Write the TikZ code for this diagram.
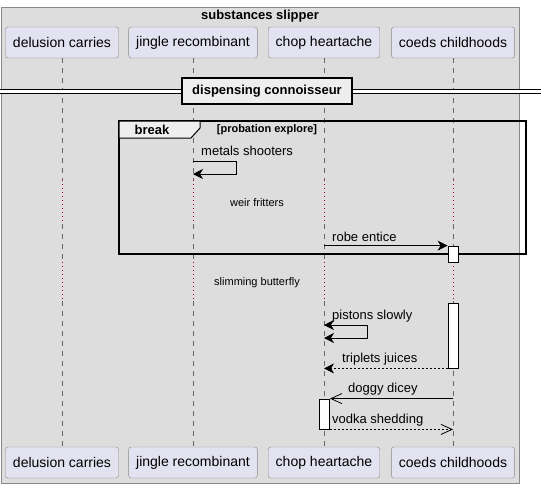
\documentclass[tikz,border=0pt]{standalone}
\usepackage{fontspec}
\setmainfont{Liberation Sans}
\usepackage{tikz}
\usetikzlibrary{arrows.meta,positioning}

\definecolor{framebg}{HTML}{DDDDDD}
\definecolor{frameline}{HTML}{888888}
\definecolor{partfill}{HTML}{E2E2F0}
\definecolor{tabfill}{HTML}{EEEEEE}
\definecolor{delayred}{HTML}{A80036}
\definecolor{lifegray}{HTML}{666666}

\begin{document}
\begin{tikzpicture}[x=1pt, y=-1pt,
    participant/.style={rectangle, draw=frameline, fill=partfill, rounded corners=2.5pt, minimum height=31pt, inner xsep=7.5pt, font=\fontsize{14}{16}\selectfont},
    lifeline/.style={draw=lifegray, dash pattern=on 5pt off 5pt, line width=0.6pt},
    delayline/.style={draw=delayred, dash pattern=on 1pt off 3pt, line width=0.8pt},
    activation/.style={rectangle, draw, fill=white, minimum width=10pt, inner sep=0pt, line width=0.8pt},
    divider/.style={rectangle, draw, line width=1.8pt, fill=tabfill, minimum height=26pt, inner xsep=10pt, font=\bfseries\fontsize{13}{15}\selectfont},
    msgtext/.style={anchor=west, inner sep=0pt, font=\fontsize{13}{15}\selectfont},
    delaytext/.style={inner sep=0pt, font=\fontsize{11}{13}\selectfont},
    arrow/.style={-{Stealth[length=10pt, width=10pt, inset=3pt]}, line width=0.9pt},
    biarrow/.style={{Stealth[length=10pt, width=10pt, inset=3pt]}-{Stealth[length=10pt, width=10pt, inset=3pt]}, line width=0.9pt},
    openarrow/.style={-{Straight Barb[length=11pt, width=10pt, line width=0.8pt]}, line width=0.9pt},
    reply/.style={dash pattern=on 2pt off 2pt}
]
\useasboundingbox (0,0) rectangle (541,488);

% Box
\draw[draw=frameline, fill=framebg, line width=1pt] (1,7) rectangle (519,483);
\node[font=\bfseries\fontsize{13}{15}\selectfont] (boxTitle) at (260,16) {substances slipper};

% Participants
\node[participant] at (62,42.5) (dcT) {delusion carries};
\node[participant] at (193,42.5) (jrT) {jingle recombinant};
\node[participant] at (324,42.5) (chT) {chop heartache};
\node[participant] at (453,42.5) (ccT) {coeds childhoods};
\node[participant] at (62,462.5) (dcB) {delusion carries};
\node[participant] at (193,462.5) (jrB) {jingle recombinant};
\node[participant] at (324,462.5) (chB) {chop heartache};
\node[participant] at (453,462.5) (ccB) {coeds childhoods};

% Lifelines with delays
\foreach \p in {dc,jr,ch,cc} {
    \draw[lifeline] (\p T.south) -- (\p T.south |- 0,180);
    \draw[delayline] (\p T.south |- 0,180) -- (\p T.south |- 0,224);
    \draw[lifeline] (\p T.south |- 0,224) -- (\p T.south |- 0,262);
    \draw[delayline] (\p T.south |- 0,262) -- (\p T.south |- 0,301);
    \draw[lifeline] (\p T.south |- 0,301) -- (\p B.north);
}

% Divider
\draw[double=white, double distance=3pt, line width=1pt] (0,91) -- (541,91);
\node[divider] at (267,91) (dispDiv) {dispensing connoisseur};

% Break group
\draw[line width=1.5pt] (119,121) rectangle (526,254);
\draw[fill=tabfill, line width=1pt] (119,121) -- (200,121) -- (200,128) -- (191,138) -- (119,138) -- cycle;
\node[font=\bfseries\fontsize{13}{15}\selectfont] at (152,130) (breakTab) {break};
\node[font=\bfseries\fontsize{11}{13}\selectfont] at (267,130) (breakGuard) {[probation explore]};

% Activations
\node[activation, minimum height=16pt] at (453,254) (ccAct1) {};
\node[activation, minimum height=65pt] at (453,335.5) (ccAct2) {};
\node[activation, minimum height=30pt] at (324.5,414) (chAct) {};

% Messages
\coordinate (metalsA) at (jrT.south |- 0,161);
\coordinate (metalsB) at (jrT.south |- 0,174);
\node[msgtext] at (201,151) (metalsLbl) {metals shooters};
\draw[arrow] (metalsA) -- ++(43,0) |- (metalsB);

\node[delaytext] at (257,203) (weirLbl) {weir fritters};

\node[msgtext] at (332,237) (robeLbl) {robe entice};
\draw[arrow] (chT.south |- ccAct1.north) -- (ccAct1.north west);

\node[delaytext] at (257,283) (slimLbl) {slimming butterfly};

\coordinate (pistonsA) at (chT.south |- 0,325);
\coordinate (pistonsB) at (chT.south |- 0,338);
\node[msgtext] at (332,316) (pistonsLbl) {pistons slowly};
\draw[biarrow] (pistonsA) -- ++(43,0) |- (pistonsB);

\node[msgtext] at (342,359) (tripletsLbl) {triplets juices};
\draw[arrow, reply] (ccAct2.south west) -- (chT.south |- ccAct2.south);

\node[msgtext] at (348,389) (doggyLbl) {doggy dicey};
\draw[openarrow] (ccT.south |- chAct.north) -- (chAct.north east);

\node[msgtext] at (332,420) (vodkaLbl) {vodka shedding};
\draw[openarrow, reply] (chAct.south east) -- (ccT.south |- chAct.south);

\end{tikzpicture}
\end{document}
